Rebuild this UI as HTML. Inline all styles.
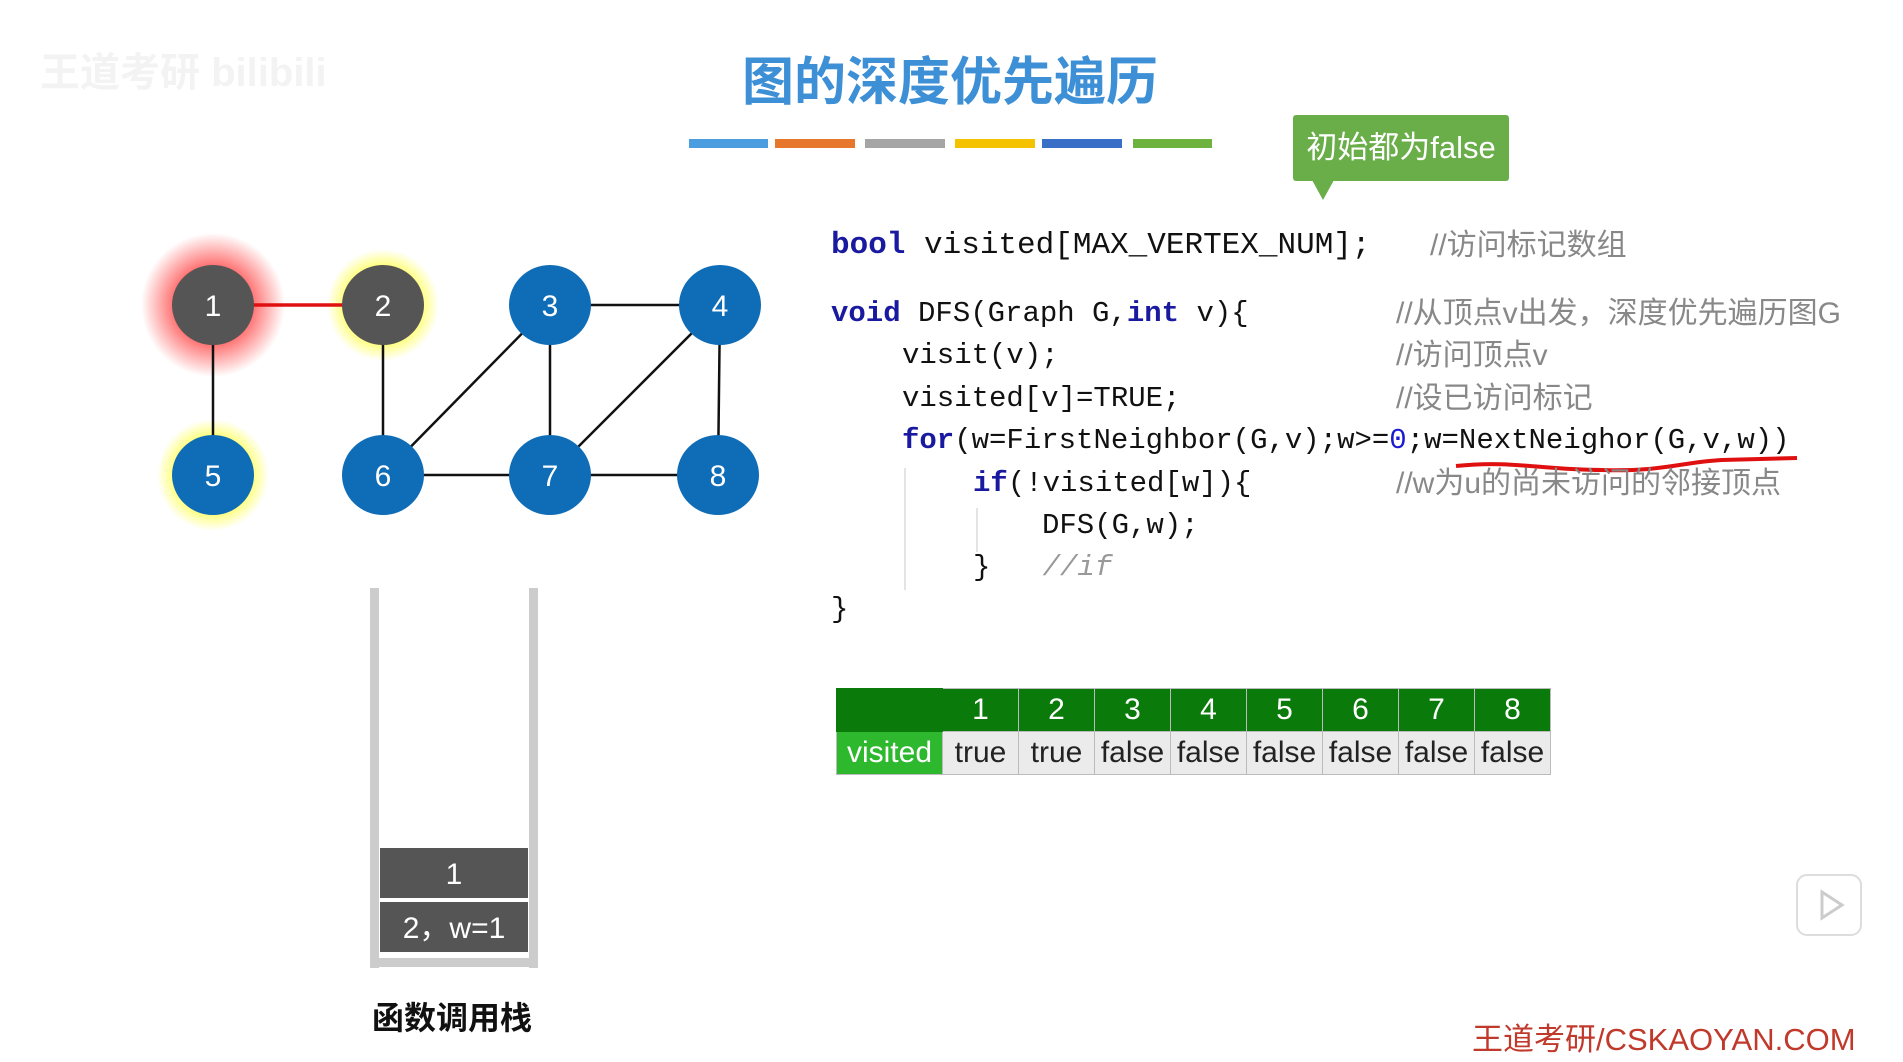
<!DOCTYPE html>
<html><head><meta charset="utf-8"><style>
body{margin:0;width:1903px;height:1062px;background:#fff;position:relative;overflow:hidden;font-family:"Liberation Sans","Noto Sans CJK SC",sans-serif}
.a{position:absolute;white-space:nowrap}
.code{position:absolute;font-family:"Liberation Mono","Noto Sans CJK SC",monospace;font-size:29px;color:#111;white-space:pre;line-height:34px}
.kw{color:#1a1aa0;font-weight:bold}
.cm{position:absolute;color:#888;font-size:30px;font-family:"Liberation Sans","Noto Sans CJK SC",sans-serif;white-space:nowrap;line-height:34px}
.bar{position:absolute;top:139px;height:9px}
table{border-collapse:collapse;position:absolute;left:836px;top:688px}
td{width:75px;height:42px;text-align:center;font-size:30px;padding:0;border:1px solid #bbb}
</style></head><body>
<div class="a" style="left:40px;top:40px;font-size:40px;color:#f3f3f3;font-weight:bold">王道考研 bilibili</div>
<div class="a" style="left:742px;top:40px;font-size:52px;color:#3d8fd6;font-weight:bold">图的深度优先遍历</div>
<div class="bar" style="left:689px;width:79px;background:#4a9ee0"></div>
<div class="bar" style="left:775px;width:80px;background:#e8772e"></div>
<div class="bar" style="left:865px;width:80px;background:#a5a5a5"></div>
<div class="bar" style="left:955px;width:80px;background:#f5c200"></div>
<div class="bar" style="left:1042px;width:80px;background:#3a6fc8"></div>
<div class="bar" style="left:1133px;width:79px;background:#6fb33f"></div>
<div class="a" style="left:1293px;top:115px;width:216px;height:66px;background:#6aae4a;border-radius:3px;color:#fff;font-size:31px;line-height:66px;text-align:center">初始都为false</div>
<svg class="a" style="left:0;top:0" width="1903" height="1062">
<defs>
<radialGradient id="gr"><stop offset="0.55" stop-color="#ff5050" stop-opacity="0.8"/><stop offset="1" stop-color="#ff5050" stop-opacity="0"/></radialGradient>
<radialGradient id="gy"><stop offset="0.6" stop-color="#ffff40" stop-opacity="0.9"/><stop offset="1" stop-color="#ffff40" stop-opacity="0"/></radialGradient>
</defs>
<path d="M1312 180 L1334 180 L1323 200 Z" fill="#6aae4a"/>
<circle cx="213" cy="305" r="72" fill="url(#gr)"/>
<circle cx="383" cy="305" r="56" fill="url(#gy)"/>
<circle cx="213" cy="475" r="56" fill="url(#gy)"/>
<g stroke="#111" stroke-width="2.5">
<line x1="213" y1="305" x2="213" y2="475"/>
<line x1="383" y1="305" x2="383" y2="475"/>
<line x1="550" y1="305" x2="720" y2="305"/>
<line x1="550" y1="305" x2="550" y2="475"/>
<line x1="720" y1="305" x2="718" y2="475"/>
<line x1="550" y1="305" x2="383" y2="475"/>
<line x1="720" y1="305" x2="550" y2="475"/>
<line x1="383" y1="475" x2="718" y2="475"/>
</g>
<line x1="213" y1="305" x2="383" y2="305" stroke="#e01010" stroke-width="3.5"/>
<g font-family="Liberation Sans" font-size="30" fill="#fff" text-anchor="middle">
<ellipse cx="213" cy="305" rx="41" ry="40" fill="#555"/><text x="213" y="316">1</text>
<ellipse cx="383" cy="305" rx="41" ry="40" fill="#555"/><text x="383" y="316">2</text>
<ellipse cx="550" cy="305" rx="41" ry="40" fill="#0f6cb6"/><text x="550" y="316">3</text>
<ellipse cx="720" cy="305" rx="41" ry="40" fill="#0f6cb6"/><text x="720" y="316">4</text>
<ellipse cx="213" cy="475" rx="41" ry="40" fill="#0f6cb6"/><text x="213" y="486">5</text>
<ellipse cx="383" cy="475" rx="41" ry="40" fill="#0f6cb6"/><text x="383" y="486">6</text>
<ellipse cx="550" cy="475" rx="41" ry="40" fill="#0f6cb6"/><text x="550" y="486">7</text>
<ellipse cx="718" cy="475" rx="41" ry="40" fill="#0f6cb6"/><text x="718" y="486">8</text>
</g>
<rect x="370" y="588" width="9" height="380" fill="#ccc"/>
<rect x="529" y="588" width="9" height="380" fill="#ccc"/>
<rect x="370" y="958" width="168" height="9" fill="#ccc"/>
<rect x="380" y="848" width="148" height="50" fill="#555"/>
<rect x="380" y="902" width="148" height="50" fill="#555"/>
<g font-family="Liberation Sans,Noto Sans CJK SC" font-size="30" fill="#fff" text-anchor="middle">
<text x="454" y="884">1</text><text x="454" y="938">2，w=1</text></g>
<path d="M1456 466 C1512 460,1542 470,1602 470 C1662 472,1682 462,1722 460 L1797 458" stroke="#e01010" stroke-width="4" fill="none"/>
<line x1="905" y1="468" x2="905" y2="590" stroke="#e4e4e4" stroke-width="2"/>
<line x1="977" y1="508" x2="977" y2="552" stroke="#e4e4e4" stroke-width="2"/>
<rect x="1797" y="875" width="64" height="60" rx="10" fill="#fff" stroke="#ddd" stroke-width="2"/>
<path d="M1822 892 L1842 905 L1822 918 Z" fill="none" stroke="#ccc" stroke-width="3"/>
</svg>
<div class="a" style="left:372px;top:993px;font-size:32px;font-weight:bold;color:#111">函数调用栈</div>
<div class="code" style="left:831px;top:229px;font-size:31px"><span class="kw">bool</span> visited[MAX_VERTEX_NUM];</div>
<div class="cm" style="left:1430px;top:229px">//访问标记数组</div>
<div class="code" style="left:831px;top:297px"><span class="kw">void</span> DFS(Graph G,<span class="kw">int</span> v){</div>
<div class="cm" style="left:1396px;top:297px">//从顶点v出发，深度优先遍历图G</div>
<div class="code" style="left:902px;top:339px">visit(v);</div>
<div class="cm" style="left:1396px;top:339px">//访问顶点v</div>
<div class="code" style="left:902px;top:382px">visited[v]=TRUE;</div>
<div class="cm" style="left:1396px;top:382px">//设已访问标记</div>
<div class="code" style="left:902px;top:424px"><span class="kw">for</span>(w=FirstNeighbor(G,v);w&gt;=<span style="color:#1a1ad0">0</span>;w=NextNeighor(G,v,w))</div>
<div class="code" style="left:973px;top:467px"><span class="kw">if</span>(!visited[w]){</div>
<div class="cm" style="left:1396px;top:467px">//w为u的尚未访问的邻接顶点</div>
<div class="code" style="left:1042px;top:509px">DFS(G,w);</div>
<div class="code" style="left:973px;top:551px">}   <span style="color:#999;font-style:italic">//if</span></div>
<div class="code" style="left:831px;top:593px">}</div>
<table>
<tr style="background:#0a7a0a;color:#fff"><td style="width:105px;border-color:#0a7a0a"></td><td>1</td><td>2</td><td>3</td><td>4</td><td>5</td><td>6</td><td>7</td><td>8</td></tr>
<tr style="background:#ebebeb;color:#222"><td style="background:#2db82d;color:#fff">visited</td><td>true</td><td>true</td><td>false</td><td>false</td><td>false</td><td>false</td><td>false</td><td>false</td></tr>
</table>
<div class="a" style="left:1472px;top:1014px;font-size:31px;color:#c0392b">王道考研/CSKAOYAN.COM</div>
</body></html>
